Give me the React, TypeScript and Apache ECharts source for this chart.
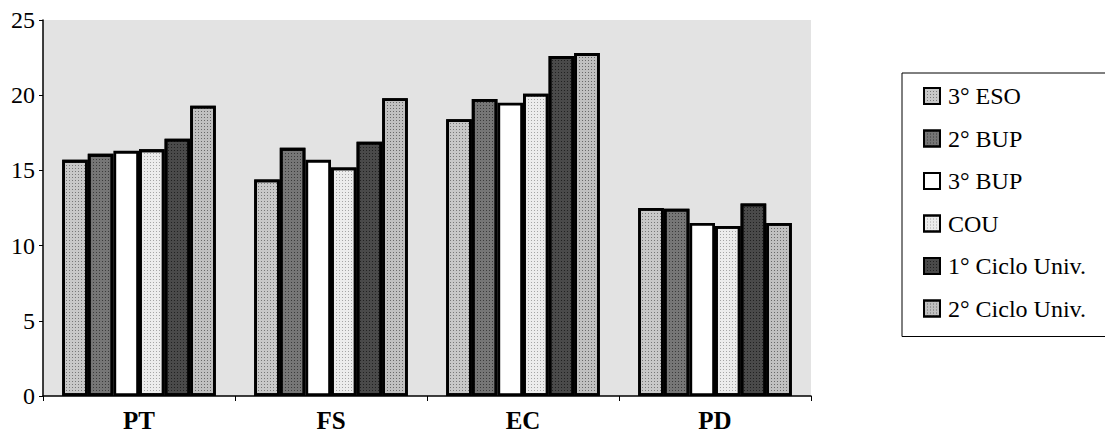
import React, { useEffect, useRef } from "react";
import * as echarts from "echarts";

const categories = ["PT", "FS", "EC", "PD"];
const seriesNames = ["3° ESO", "2° BUP", "3° BUP", "COU", "1° Ciclo Univ.", "2° Ciclo Univ."];
const eso3 = [15.7, 14.4, 18.4, 12.5];
const bup2 = [16.1, 16.5, 19.75, 12.45];
const bup3 = [16.3, 15.7, 19.5, 11.5];
const cou = [16.4, 15.2, 20.1, 11.3];
const ciclo1 = [17.1, 16.9, 22.6, 12.8];
const ciclo2 = [19.3, 19.8, 22.8, 11.5];
const yTicks = [0, 5, 10, 15, 20, 25];

const seriesData = [eso3, bup2, bup3, cou, ciclo1, ciclo2];
const fills = ["#c8c8c8", "#767676", "#ffffff", "#ececec", "#4a4a4a", "#c0c0c0"];
const dotColors = ["rgba(0,0,0,0.4)", "rgba(0,0,0,0.5)", null, "rgba(0,0,0,0.3)", "rgba(0,0,0,0.55)", "rgba(0,0,0,0.45)"];
const FONT = "Liberation Serif";

export default function App() {
  const ref = useRef<HTMLDivElement>(null);
  useEffect(() => {
    if (!ref.current) return;
    const chart = echarts.init(ref.current, undefined, { renderer: "svg" });
    chart.setOption({
      animation: false,
      backgroundColor: "#ffffff",
      textStyle: { fontFamily: FONT },
      grid: {
        left: 43,
        right: 294,
        top: 20,
        bottom: 41,
        show: true,
        backgroundColor: "#e3e3e3",
        borderWidth: 0,
      },
      legend: {
        orient: "vertical",
        left: 902,
        top: 73,
        itemWidth: 16,
        itemHeight: 16,
        itemGap: 18.5,
        padding: [11, 34, 16, 21],
        borderColor: "#000",
        borderWidth: 1,
        icon: "rect",
        textStyle: { fontFamily: FONT, fontSize: 24, color: "#000", padding: [0, 0, 0, 3] },
        data: seriesNames,
      },
      xAxis: {
        type: "category",
        data: categories,
        axisLine: { show: true, lineStyle: { color: "#000", width: 1.5 } },
        axisTick: { show: true, length: 5, lineStyle: { color: "#000" } },
        axisLabel: { fontFamily: FONT, fontSize: 25, fontWeight: "bold", color: "#000", margin: 12 },
      },
      yAxis: {
        type: "value",
        min: yTicks[0],
        max: yTicks[yTicks.length - 1],
        interval: 5,
        axisLine: { show: true, lineStyle: { color: "#000", width: 1.5 } },
        axisTick: { show: true, length: 4, lineStyle: { color: "#000" } },
        splitLine: { show: false },
        axisLabel: { fontFamily: FONT, fontSize: 24, color: "#000", margin: 8 },
      },
      series: seriesNames.map((name, i) => ({
        name,
        type: "bar",
        data: seriesData[i],
        barGap: "0%",
        barCategoryGap: "20%",
        itemStyle: {
          color: fills[i],
          borderColor: "#000",
          borderWidth: 2.8,
          decal: dotColors[i]
            ? { symbol: "rect", symbolSize: 1, dashArrayX: [1, 2], dashArrayY: [1, 2], color: dotColors[i] }
            : "none",
        },
      })),
    });
    return () => chart.dispose();
  }, []);
  return <div ref={ref} style={{ width: 1105, height: 437, position: "absolute", left: 0, top: 0, overflow: "hidden" }} />;
}
